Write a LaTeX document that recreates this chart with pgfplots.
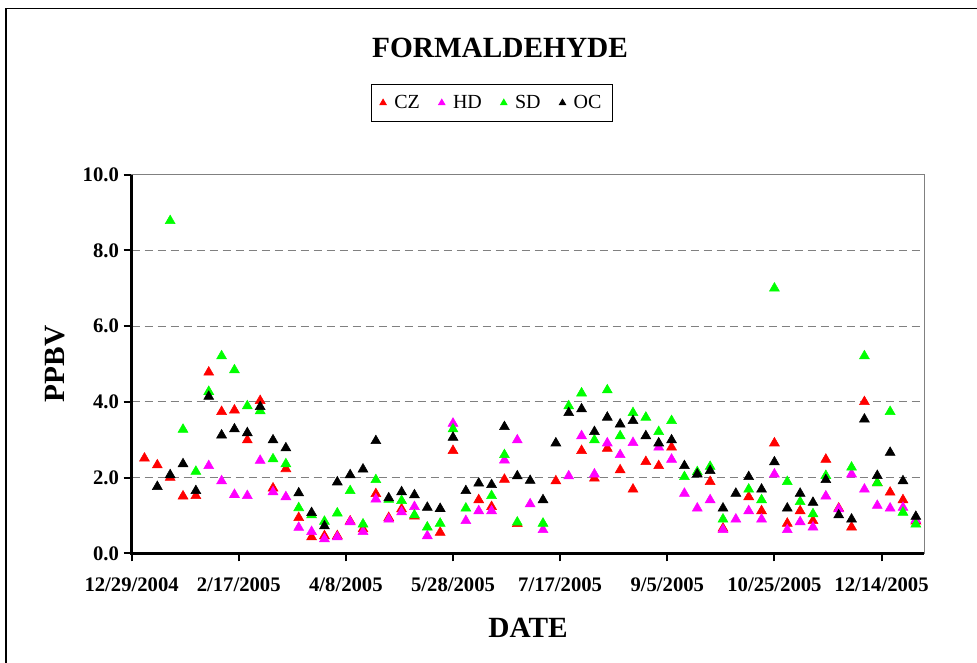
\documentclass[border=0pt]{standalone}
\usepackage{fontspec}
\setmainfont{Liberation Serif}
\usepackage{pgfplots}
\usepackage{pgfplotstable}
\pgfplotsset{compat=1.18}

\definecolor{czred}{RGB}{255,0,0}
\definecolor{hdmag}{RGB}{255,0,255}
\definecolor{sdgreen}{RGB}{0,255,0}

% day = days since 12/29/2004, samples every 6 days
\pgfplotstableread{
day ppbv
6 2.51
12 2.33
18 2.00
24 1.51
30 1.52
36 4.78
42 3.74
48 3.78
54 2.99
60 4.03
66 1.72
72 2.23
78 0.94
84 0.43
90 0.46
96 0.46
102 0.85
108 0.64
114 1.57
120 0.94
126 1.17
132 0.98
144 0.55
150 2.71
162 1.41
168 1.23
174 1.95
180 0.78
198 1.91
210 2.71
216 1.98
222 2.77
228 2.20
234 1.69
240 2.42
246 2.31
252 2.80
270 1.89
276 0.66
288 1.49
294 1.12
300 2.91
306 0.79
312 1.12
318 0.86
324 2.48
330 1.19
336 0.69
342 4.00
348 1.86
354 1.61
360 1.41
366 0.85
}\tblCZ

\pgfplotstableread{
day ppbv
36 2.31
42 1.91
48 1.55
54 1.52
60 2.45
66 1.62
72 1.49
78 0.68
84 0.57
90 0.38
96 0.43
102 0.83
108 0.57
114 1.43
120 0.90
126 1.09
132 1.23
138 0.46
150 3.43
156 0.86
162 1.12
168 1.12
174 2.46
180 2.99
186 1.30
192 0.62
204 2.04
210 3.10
216 2.09
222 2.91
228 2.60
234 2.92
246 2.80
252 2.48
258 1.58
264 1.19
270 1.41
276 0.62
282 0.90
288 1.12
294 0.90
300 2.09
306 0.62
312 0.83
318 0.69
324 1.51
330 1.17
336 2.09
342 1.69
348 1.26
354 1.19
360 1.21
366 0.88
}\tblHD

\pgfplotstableread{
day ppbv
18 8.78
24 3.27
30 2.16
36 4.27
42 5.21
48 4.84
54 3.89
60 3.76
66 2.49
72 2.36
78 1.20
84 1.01
90 0.84
96 1.06
102 1.65
108 0.77
114 1.94
120 1.42
126 1.39
132 1.01
138 0.69
144 0.79
150 3.28
156 1.19
168 1.52
174 2.60
180 0.82
192 0.79
204 3.89
210 4.23
216 2.99
222 4.31
228 3.10
234 3.71
240 3.59
246 3.21
252 3.50
258 2.02
264 2.15
270 2.29
276 0.90
288 1.69
294 1.41
300 7.00
306 1.89
312 1.36
318 1.04
324 2.05
336 2.27
342 5.21
348 1.86
354 3.74
360 1.08
366 0.77
}\tblSD

\pgfplotstableread{
day ppbv
12 1.76
18 2.07
24 2.36
30 1.65
36 4.14
42 3.12
48 3.28
54 3.18
60 3.87
66 2.99
72 2.78
78 1.59
84 1.07
90 0.72
96 1.88
102 2.07
108 2.22
114 2.97
120 1.46
126 1.62
132 1.54
138 1.21
144 1.18
150 3.06
156 1.65
162 1.85
168 1.81
174 3.34
180 2.04
186 1.92
192 1.41
198 2.91
204 3.71
210 3.81
216 3.21
222 3.59
228 3.41
234 3.50
240 3.10
246 2.91
252 2.99
258 2.31
264 2.09
270 2.18
276 1.19
282 1.58
288 2.02
294 1.69
300 2.41
306 1.19
312 1.58
318 1.34
324 1.94
330 1.01
336 0.90
342 3.54
348 2.05
354 2.66
360 1.91
366 0.97
}\tblOC

\begin{document}
\begin{tikzpicture}
\begin{axis}[
  at={(98.7pt,-414.975pt)}, anchor=south west,
  scale only axis, width=594.6pt, height=284pt,
  xmin=0, xmax=370, ymin=0, ymax=10,
  clip=false,
  axis line style={draw=gray, line width=0.6pt},
  xtick={0,50,...,350},
  xticklabels={12/29/2004,2/17/2005,4/8/2005,5/28/2005,7/17/2005,9/5/2005,10/25/2005,12/14/2005},
  ytick={0,2,...,10},
  tick align=outside, xtick pos=bottom, ytick pos=left,
  major tick length=6pt,
  tick style={black, line width=1.5pt},
  ymajorgrids,
  grid style={gray, line width=0.8pt, dash pattern=on 6pt off 3.75pt},
  ticklabel style={font=\bfseries\fontsize{15.5}{18}\selectfont},
  xticklabel style={yshift=-9pt},
  yticklabel style={/pgf/number format/.cd, fixed, fixed zerofill, precision=1, assume math mode=true},
  xlabel={DATE}, ylabel={PPBV},
  label style={font=\bfseries\fontsize{22}{26}\selectfont},
  xlabel style={at={(axis description cs:0.5,-0.197)}, anchor=center},
  ylabel style={at={(axis description cs:-0.0966,0.5)}, anchor=center},
  legend columns=4,
  legend style={at={(axis description cs:0.4546,1.1894)}, anchor=center,
    draw=black, line width=0.6pt, font=\fontsize{15}{17}\selectfont,
    inner xsep=6pt, inner ysep=6pt,
    /tikz/every odd column/.append style={column sep=4pt},
    /tikz/every even column/.append style={column sep=12pt}},
  legend image post style={mark size=2.8pt},
  every axis plot/.append style={only marks, mark=triangle*, mark size=4.3pt},
]
\addplot[czred, mark options={fill=czred, draw=czred}] table[x=day,y=ppbv] {\tblCZ};
\addplot[hdmag, mark options={fill=hdmag, draw=hdmag}] table[x=day,y=ppbv] {\tblHD};
\addplot[sdgreen, mark options={fill=sdgreen, draw=sdgreen}] table[x=day,y=ppbv] {\tblSD};
\addplot[black, mark options={fill=black, draw=black}] table[x=day,y=ppbv] {\tblOC};
\legend{CZ,HD,SD,OC}
\draw[black, line width=2.2pt] (rel axis cs:0,1) -- (rel axis cs:0,0) -- (rel axis cs:1,0);
\end{axis}
\begin{scope}[x=0.75pt, y=-0.75pt]
  \node[font=\bfseries\fontsize{22}{26}\selectfont] at (500,48) {FORMALDEHYDE};
  \draw[black, line width=1.3pt] (6,700) -- (6,8.5) -- (1000,8.5);
\end{scope}
\pgfresetboundingbox
\path[use as bounding box] (0,0) rectangle (732.75pt,-496.5pt);
\end{tikzpicture}
\end{document}
